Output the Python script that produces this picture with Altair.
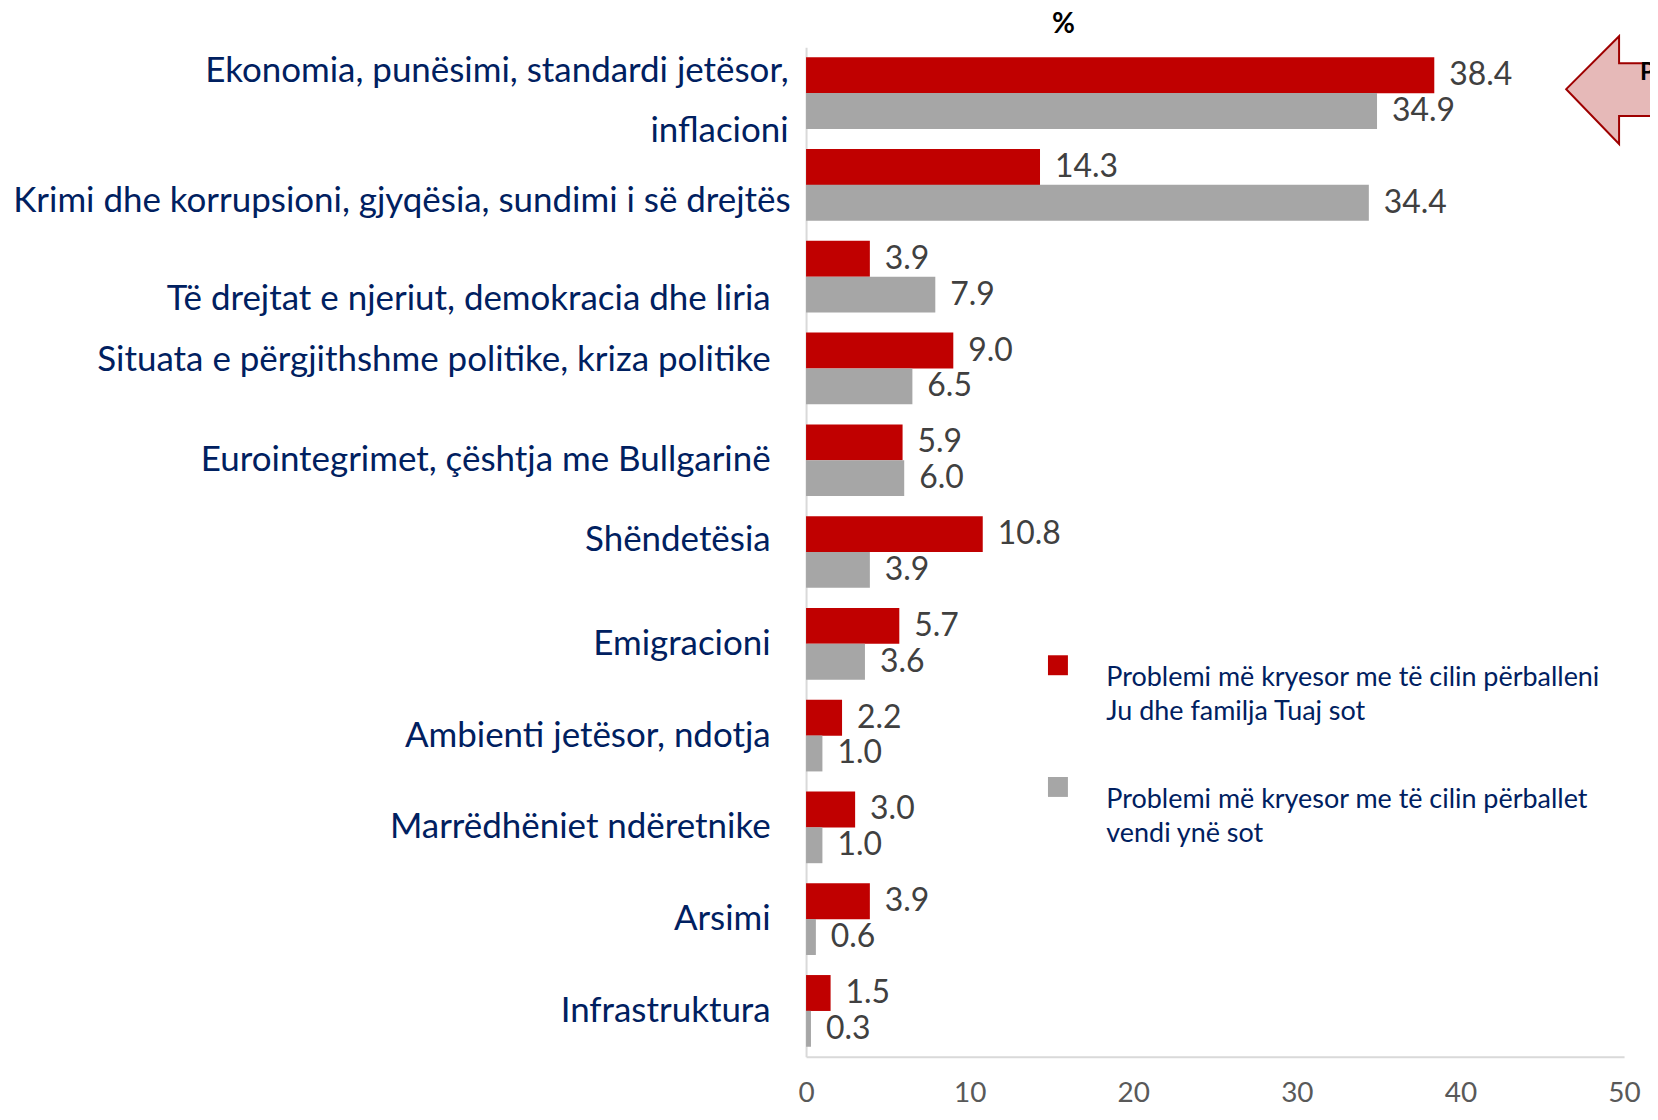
import altair as alt
import pandas as pd

categories = [
    "Ekonomia, punësimi, standardi jetësor, inflacioni",
    "Krimi dhe korrupsioni, gjyqësia, sundimi i së drejtës",
    "Të drejtat e njeriut, demokracia dhe liria",
    "Situata e përgjithshme politike, kriza politike",
    "Eurointegrimet, çështja me Bullgarinë",
    "Shëndetësia",
    "Emigracioni",
    "Ambienti jetësor, ndotja",
    "Marrëdhëniet ndëretnike",
    "Arsimi",
    "Infrastruktura",
]
series = [
    "Problemi më kryesor me të cilin përballeni Ju dhe familja Tuaj sot",
    "Problemi më kryesor me të cilin përballet vendi ynë sot",
]
family_values = [38.4, 14.3, 3.9, 9.0, 5.9, 10.8, 5.7, 2.2, 3.0, 3.9, 1.5]
country_values = [34.9, 34.4, 7.9, 6.5, 6.0, 3.9, 3.6, 1.0, 1.0, 0.6, 0.3]
x_ticks = [0, 10, 20, 30, 40, 50]
colors = ["#C00000", "#A6A6A6"]

rows = []
for c, v in zip(categories, family_values):
    rows.append({"cat": c, "series": series[0], "value": v})
for c, v in zip(categories, country_values):
    rows.append({"cat": c, "series": series[1], "value": v})
df = pd.DataFrame(rows)

FONT = "Lato"
NAVY = "#002060"

y_label_expr = (
    "datum.value == 'Ekonomia, punësimi, standardi jetësor, inflacioni' ? "
    "['Ekonomia, punësimi, standardi jetësor,', 'inflacioni'] : datum.value"
)
legend_label_expr = (
    "indexof(datum.value, 'familja') > 0 ? "
    "['Problemi më kryesor me të cilin përballeni', 'Ju dhe familja Tuaj sot'] : "
    "['Problemi më kryesor me të cilin përballet', 'vendi ynë sot']"
)


def is_cat(i):
    return "datum.value == '" + categories[i] + "'"


label_offset = {
    "condition": [
        {"test": is_cat(0), "value": -22},
        {"test": is_cat(1), "value": 16},
        {"test": is_cat(2), "value": 22},
        {"test": is_cat(3), "value": -8},
        {"test": is_cat(5), "value": -12},
    ],
    "value": 0,
}
label_padding = {
    "condition": [
        {"test": is_cat(0), "value": 18},
        {"test": is_cat(1), "value": 16},
    ],
    "value": 36,
}

y_enc = alt.Y(
    "cat:N",
    sort=categories,
    scale=alt.Scale(paddingInner=0.22, paddingOuter=0.11),
    axis=alt.Axis(
        title=None,
        labelFont=FONT,
        labelFontSize=35,
        labelColor=NAVY,
        labelPadding=label_padding,
        labelOffset=label_offset,
        labelLimit=900,
        labelExpr=y_label_expr,
        labelLineHeight=60,
        ticks=False,
        domain=True,
        domainColor="#D9D9D9",
        domainWidth=2,
    ),
)
yoff = alt.YOffset("series:N", sort=series, scale=alt.Scale(paddingInner=0))
x_enc = alt.X(
    "value:Q",
    scale=alt.Scale(domain=[0, 50], nice=False),
    axis=alt.Axis(
        title=None,
        values=x_ticks,
        grid=False,
        ticks=False,
        domain=True,
        domainColor="#D9D9D9",
        domainWidth=2,
        labelFont=FONT,
        labelFontSize=28,
        labelColor="#595959",
        labelPadding=23,
        labelFlush=False,
    ),
)

bars = alt.Chart(df).mark_bar(size=36).encode(
    y=y_enc,
    yOffset=yoff,
    x=x_enc,
    color=alt.Color(
        "series:N",
        sort=series,
        scale=alt.Scale(domain=series, range=colors),
        legend=alt.Legend(
            title=None,
            orient="none",
            legendX=239,
            legendY=606,
            padding=0,
            symbolType="square",
            symbolSize=400,
            symbolStrokeWidth=0,
            labelFont=FONT,
            labelFontSize=27,
            labelColor=NAVY,
            labelLimit=700,
            labelOffset=35,
            labelBaseline="top",
            labelExpr=legend_label_expr,
            rowPadding=48,
        ),
    ),
)

labels = alt.Chart(df).mark_text(
    align="left", baseline="middle", dx=15, font=FONT, fontSize=32, color="#404040"
).encode(
    y=alt.Y("cat:N", sort=categories),
    yOffset=alt.YOffset("series:N", sort=series),
    x="value:Q",
    text=alt.Text("value:Q", format=".1f"),
)

deco = pd.DataFrame({"k": ["P"], "t": ["%"]})
arrow_path = "M -0.44 0 L 0.09 -0.53 L 0.09 -0.26 L 0.7 -0.26 L 0.7 0.27 L 0.09 0.27 L 0.09 0.55 Z"
arrow = alt.Chart(deco).mark_point(
    shape=arrow_path, size=40000, filled=True, fill="#E6B9B8", stroke="#9E0000",
    strokeWidth=2, opacity=1, fillOpacity=1
).encode(x=alt.value(806), y=alt.value(42))
ptext = alt.Chart(deco).mark_text(
    align="left", baseline="middle", font=FONT, fontSize=24, fontWeight="bold", color="#000000"
).encode(x=alt.value(836), y=alt.value(26), text="k:N")
pct = alt.Chart(deco).mark_text(
    align="center", baseline="middle", font=FONT, fontSize=28, fontWeight="bold", color="#000000"
).encode(x=alt.value(258), y=alt.value(-22), text="t:N")

chart = (
    alt.layer(bars, labels, arrow, ptext, pct)
    .properties(
        width=820,
        height=1012,
        background="white",
        autosize=alt.AutoSizeParams(type="none"),
        padding={"left": 800, "top": 38, "right": 26, "bottom": 54},
    )
    .configure(
        view=alt.ViewConfig(stroke=None),
        style={"guide-label": {"lineHeight": 34}},
    )
)

chart.save("out.html", embed_options={"renderer": "svg", "actions": False})
